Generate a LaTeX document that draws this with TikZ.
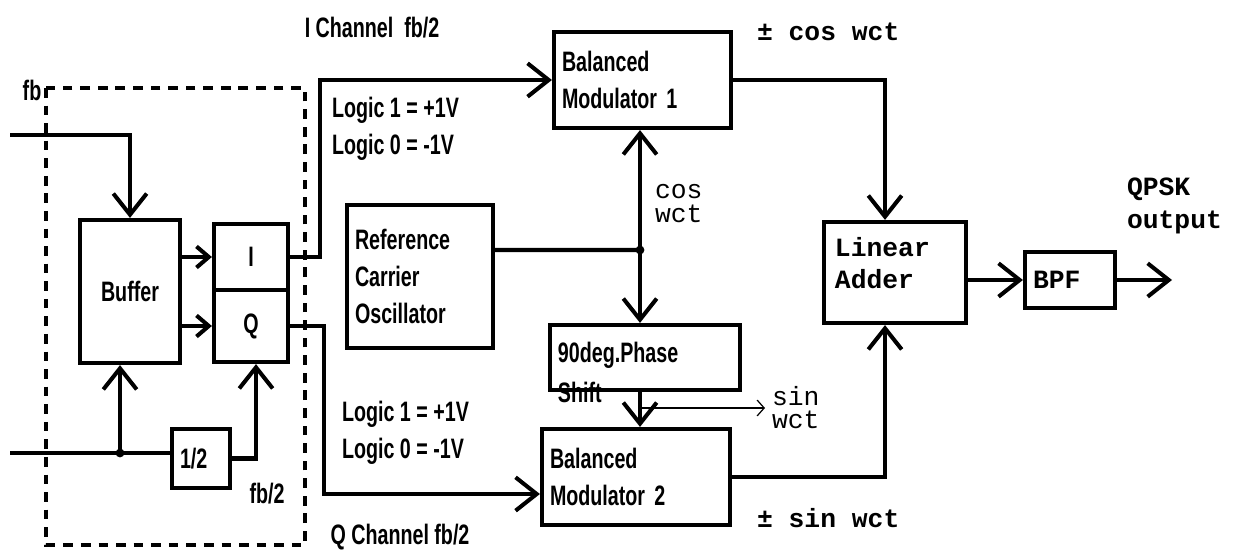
\documentclass[tikz,border=0pt]{standalone}
\usepackage{fontspec}
\usetikzlibrary{arrows.meta,positioning}
\newfontfamily\condfont[FakeStretch=0.7]{Liberation Sans}
\newfontfamily\courfont{Liberation Mono}

\begin{document}
\begin{tikzpicture}[x=0.02cm,y=-0.02cm,line width=2.3pt]
  \tikzset{every node/.style={inner sep=0pt}}
  \tikzstyle{lbl}=[font={\condfont\bfseries\fontsize{16}{21}\selectfont},align=left]
  \tikzstyle{mono}=[font={\courfont\bfseries\fontsize{15}{18.5}\selectfont},align=left]
  \tikzstyle{monolt}=[font={\courfont\fontsize{15}{13.5}\selectfont},align=left]
  \tikzstyle{blk}=[draw,line width=2.4pt,lbl,align=center]
  \tikzstyle{lblk}=[blk,align=left,inner xsep=0.16cm]
  \tikzstyle{dashbox}=[line width=1.8pt,dash pattern=on 5.5pt off 4.5pt]
  \tikzstyle{arr}=[-{Straight Barb[length=12pt,width=19pt,line width=2.3pt]}]
  \tikzstyle{sarr}=[-{Straight Barb[length=7pt,width=12pt,line width=2.3pt]}]
  \tikzstyle{tarr}=[line width=0.7pt,-{Straight Barb[length=4pt,width=9pt,line width=0.7pt]}]

  \useasboundingbox (0,0) rectangle (1239,550);

  % serial-to-parallel part
  \draw[dashbox] (46,88) rectangle (305,545);
  \node[blk,minimum width=2.0cm,minimum height=2.86cm] (buf) at (130,291.5) {Buffer};
  \node[blk,minimum width=1.48cm,minimum height=1.32cm] (ibox) at (251,257) {I};
  \node[blk,minimum width=1.48cm,minimum height=1.44cm] (qbox) at (251,326) {Q};
  \node[lblk,text width=0.84cm,minimum height=1.18cm] (half) at (201,458.5) {1/2};

  % modulators and carrier
  \node[lblk,text width=3.22cm,minimum height=1.92cm] (bm1) at (642.5,80) {Balanced\\Modulator 1};
  \node[lblk,text width=2.6cm,minimum height=2.86cm] (osc) at (420,276.5) {Reference\\Carrier\\Oscillator};
  \node[blk,minimum width=3.8cm,minimum height=1.3cm] (phase) at (645,357.5) {};
  \node[lbl,below right=0.34cm and 0.16cm of phase.north west] (phasetxt) {90deg.Phase\\[1.7pt]Shift};
  \node[lblk,text width=3.44cm,minimum height=1.92cm] (bm2) at (636,477) {Balanced\\Modulator 2};

  % summing and filter
  \node[blk,minimum width=2.84cm,minimum height=2.02cm] (adder) at (895,272.5) {};
  \node[mono,below right=0.3cm and 0.22cm of adder.north west] (addertxt) {Linear\\Adder};
  \node[lblk,mono,text width=1.48cm,minimum height=1.12cm] (bpf) at (1070,280) {BPF};

  \coordinate (inI) at (10,135);
  \coordinate (inQ) at (10,453);
  \coordinate (split) at (120,453);
  \coordinate (carr) at (640,250);
  \coordinate (sinend) at (765,408);
  \coordinate (qpskend) at (1172,280);

  % connections
  \draw[arr] (inI) -| (buf.north);
  \draw (inQ) -- (inQ -| half.west);
  \draw[arr] (split) -- (buf.south -| split);
  \fill (split) circle (2.5pt);
  \draw[arr] (half.east) -| ([xshift=0.1cm]qbox.south);
  \draw[sarr] (buf.east |- ibox.west) -- (ibox.west);
  \draw[sarr] (buf.east |- qbox.west) -- (qbox.west);
  \draw[arr] (ibox.east) -- ++(30,0) |- (bm1.west);
  \draw[arr] (qbox.east) -- ++(34,0) |- ([yshift=-0.34cm]bm2.west);
  \draw ([yshift=0.53cm]osc.east) -- (carr);
  \fill (carr) circle (2.5pt);
  \draw[arr] (carr) -- (carr |- bm1.south);
  \draw[arr] (carr) -- (carr |- phase.north);
  \draw[arr] (carr |- phase.south) -- (carr |- bm2.north);
  \draw[tarr] (carr |- sinend) -- (sinend);
  \draw[arr] (bm1.east) -| ([xshift=-0.2cm]adder.north);
  \draw[arr] (bm2.east) -| ([xshift=-0.2cm]adder.south);
  \draw[arr] (adder.east |- bpf.west) -- (bpf.west);
  \draw[arr] (bpf.east) -- (qpskend);

  % labels
  \node[lbl] (fblbl) at (32,90) {fb};
  \node[lbl] (fbhalf) at (267,494) {fb/2};
  \node[lbl] (ichan) at (372,28) {I Channel\ \ fb/2};
  \node[lbl] (qchan) at (400,537) {Q Channel fb/2};
  \node[lbl,anchor=west] (logicI) at (330,128.5) {Logic 1 = +1V\\Logic 0 = -1V};
  \node[lbl,anchor=west] (logicQ) at (340,432.5) {Logic 1 = +1V\\Logic 0 = -1V};
  \node[mono,anchor=west] (cosout) at (755,32) {± cos wct};
  \node[mono,anchor=west] (sinout) at (755,518) {± sin wct};
  \node[monolt,anchor=west] (coslbl) at (653,203.5) {cos\\wct};
  \node[monolt,anchor=west] (sinlbl) at (770,407.5) {sin\\wct};
  \node[mono,anchor=west] (qpsk) at (1125,206) {QPSK\\output};

\end{tikzpicture}
\end{document}
